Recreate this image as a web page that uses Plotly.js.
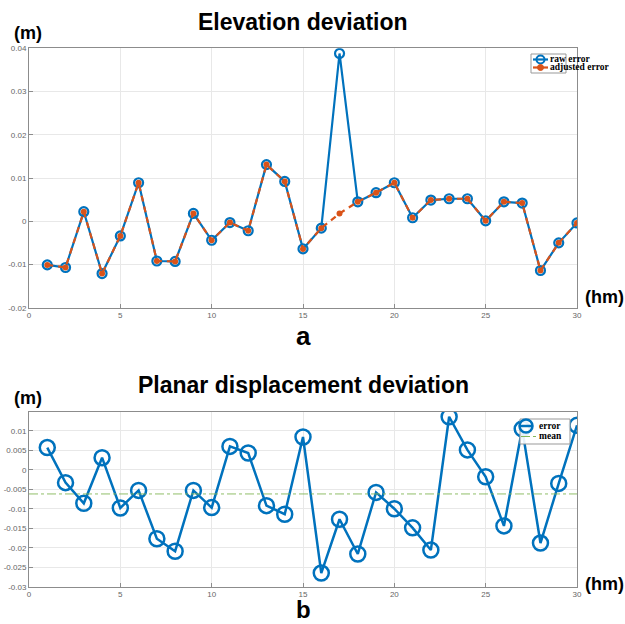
<!DOCTYPE html>
<html><head><meta charset="utf-8">
<script src="https://cdn.plot.ly/plotly-3.0.1.min.js"></script>
<style>html,body{margin:0;padding:0;background:#fff}#c{width:625px;height:624px}</style>
</head><body><div id="c"></div>
<script>
const stations = [1,2,3,4,5,6,7,8,9,10,11,12,13,14,15,16,17,18,19,20,21,22,23,24,25,26,27,28,29,30];
const rawError = [-0.0101,-0.0107,0.0022,-0.0121,-0.0034,0.0089,-0.0092,-0.0093,0.0018,-0.0044,-0.0003,-0.0022,0.0131,0.0092,-0.0064,-0.0016,0.0388,0.0045,0.0066,0.0089,0.0008,0.0049,0.0052,0.0052,0.0001,0.0045,0.0042,-0.0114,-0.0050,-0.0004];
const adjustedError = [-0.0101,-0.0107,0.0022,-0.0121,-0.0034,0.0089,-0.0092,-0.0093,0.0018,-0.0044,-0.0003,-0.0022,0.0131,0.0092,-0.0064,-0.0016,0.0018,0.0045,0.0066,0.0089,0.0008,0.0049,0.0052,0.0052,0.0001,0.0045,0.0042,-0.0114,-0.0050,-0.0004];
const planarError = [0.0057,-0.0033,-0.0086,0.0031,-0.0098,-0.0053,-0.0177,-0.0209,-0.0053,-0.0097,0.0060,0.0043,-0.0092,-0.0114,0.0084,-0.0265,-0.0127,-0.0216,-0.0058,-0.0100,-0.0149,-0.0206,0.0136,0.0051,-0.0018,-0.0144,0.0105,-0.0188,-0.0035,0.0114];
const planarMean = -0.0062;
const xTicks = [0,5,10,15,20,25,30];
const yTicksTop = [-0.02,-0.01,0,0.01,0.02,0.03,0.04];
const yTickTextTop = ['-0.02','-0.01','0','0.01','0.02','0.03','0.04'];
const yTicksBot = [-0.03,-0.025,-0.02,-0.015,-0.01,-0.005,0,0.005,0.01];
const yTickTextBot = ['-0.03','-0.025','-0.02','-0.015','-0.01','-0.005','0','0.005','0.01'];
const legendTop = ['raw error', 'adjusted error'];
const legendBot = ['error', 'mean'];

const BLUE = '#0072BD', ORANGE = '#D95319', GREEN = '#84b858';
const W = 625, H = 624;
const px = v => v / W, py = v => 1 - v / H;

const traces = [
  {x: stations, y: rawError, name: legendTop[0], xaxis: 'x', yaxis: 'y', mode: 'lines+markers',
   line: {color: BLUE, width: 2.2}, marker: {symbol: 'circle-open', size: 9, color: BLUE, line: {width: 2.2}}},
  {x: stations, y: adjustedError, name: legendTop[1], xaxis: 'x', yaxis: 'y', mode: 'lines+markers',
   line: {color: ORANGE, width: 2.2, dash: '6px,5px'}, marker: {symbol: 'circle', size: 6, color: ORANGE}},
  {x: stations, y: planarError, name: legendBot[0], xaxis: 'x2', yaxis: 'y2', mode: 'lines+markers',
   line: {color: BLUE, width: 2.5}, marker: {symbol: 'circle-open', size: 15, color: BLUE, line: {width: 2.5}}},
  {x: [0, 30], y: [planarMean, planarMean], name: legendBot[1], xaxis: 'x2', yaxis: 'y2', mode: 'lines',
   line: {color: GREEN, width: 0.9, dash: 'dashdot'}}
];

const axBase = {
  showline: true, mirror: true, linecolor: '#8c8c8c', linewidth: 1, automargin: false,
  ticks: 'inside', ticklen: 4, tickcolor: '#8c8c8c',
  showgrid: true, gridcolor: '#e8e8e8', gridwidth: 1, zeroline: false,
  tickfont: {family: 'Liberation Sans, Arial', size: 8, color: '#666'}
};
const xd = [29/625, 577/625];
const legFont = {family: 'Liberation Serif, Times New Roman', size: 9.5, color: '#000', weight: 'bold'};
const boldSans = (s) => ({family: 'Liberation Sans, Arial', size: s, color: '#000', weight: 'bold'});
const ann = (text, x, y, font, xanchor) => ({text, x: px(x), y: py(y), xref: 'paper', yref: 'paper', showarrow: false,
  xanchor: xanchor || 'center', yanchor: 'middle', font, borderpad: 0});
const shapes = [
  {type: 'rect', xref: 'paper', yref: 'paper', x0: px(531), x1: px(566), y0: py(54), y1: py(73), line: {color: '#999', width: 1}, fillcolor: 'rgba(255,255,255,0.9)', layer: 'above'},
  {type: 'line', xref: 'paper', yref: 'paper', x0: px(533), x1: px(548), y0: py(59.5), y1: py(59.5), line: {color: BLUE, width: 2.2}, layer: 'above'},
  {type: 'circle', xref: 'paper', yref: 'paper', x0: px(536.5), x1: px(544.5), y0: py(55.5), y1: py(63.5), line: {color: BLUE, width: 2}, fillcolor: 'rgba(0,0,0,0)', layer: 'above'},
  {type: 'line', xref: 'paper', yref: 'paper', x0: px(533), x1: px(548), y0: py(67.5), y1: py(67.5), line: {color: ORANGE, width: 2.2}, layer: 'above'},
  {type: 'circle', xref: 'paper', yref: 'paper', x0: px(537.5), x1: px(543.5), y0: py(64.5), y1: py(70.5), line: {color: ORANGE, width: 1}, fillcolor: ORANGE, layer: 'above'},
  {type: 'rect', xref: 'paper', yref: 'paper', x0: px(520), x1: px(570), y0: py(419), y1: py(444), line: {color: '#999', width: 1}, fillcolor: 'rgba(255,255,255,0.9)', layer: 'above'},
  {type: 'line', xref: 'paper', yref: 'paper', x0: px(519), x1: px(533), y0: py(426), y1: py(426), line: {color: BLUE, width: 2.5}, layer: 'above'},
  {type: 'circle', xref: 'paper', yref: 'paper', x0: px(519.5), x1: px(532.5), y0: py(419.5), y1: py(432.5), line: {color: BLUE, width: 2.5}, fillcolor: 'rgba(0,0,0,0)', layer: 'above'},
  {type: 'line', xref: 'paper', yref: 'paper', x0: px(521), x1: px(536), y0: py(436.5), y1: py(436.5), line: {color: GREEN, width: 1, dash: 'dashdot'}, layer: 'above'}
];
const layout = {
  width: W, height: H, margin: {l: 0, r: 0, t: 0, b: 0, autoexpand: false},
  paper_bgcolor: '#fff', plot_bgcolor: '#fff', showlegend: false,
  xaxis: Object.assign({}, axBase, {domain: xd, range: [0, 30], tickvals: xTicks, ticktext: xTicks.map(String), anchor: 'y'}),
  yaxis: Object.assign({}, axBase, {domain: [1-307.7/624, 1-48.3/624], range: [-0.02, 0.04], tickvals: yTicksTop, ticktext: yTickTextTop, anchor: 'x'}),
  xaxis2: Object.assign({}, axBase, {domain: xd, range: [0, 30], tickvals: xTicks, ticktext: xTicks.map(String), anchor: 'y2'}),
  yaxis2: Object.assign({}, axBase, {domain: [1-586.7/624, 1-411.7/624], range: [-0.03, 0.0149], tickvals: yTicksBot, ticktext: yTickTextBot, anchor: 'x2'}),
  shapes,
  annotations: [
    ann('Elevation deviation', 303, 22, boldSans(23)),
    ann('Planar displacement deviation', 303, 385, boldSans(23)),
    ann('(m)', 28, 33, boldSans(18)),
    ann('(m)', 28, 398, boldSans(18)),
    ann('(hm)', 604, 297, boldSans(18)),
    ann('(hm)', 604, 584, boldSans(18)),
    ann('a', 303, 336, boldSans(26)),
    ann('b', 303, 609, boldSans(24)),
    ann(legendTop[0], 549, 59, legFont, 'left'),
    ann(legendTop[1], 549, 67.5, legFont, 'left'),
    ann(legendBot[0], 538, 426, legFont, 'left'),
    ann(legendBot[1], 538, 436, legFont, 'left')
  ]
};
Plotly.newPlot('c', traces, layout, {displayModeBar: false, staticPlot: true});
</script></body></html>
